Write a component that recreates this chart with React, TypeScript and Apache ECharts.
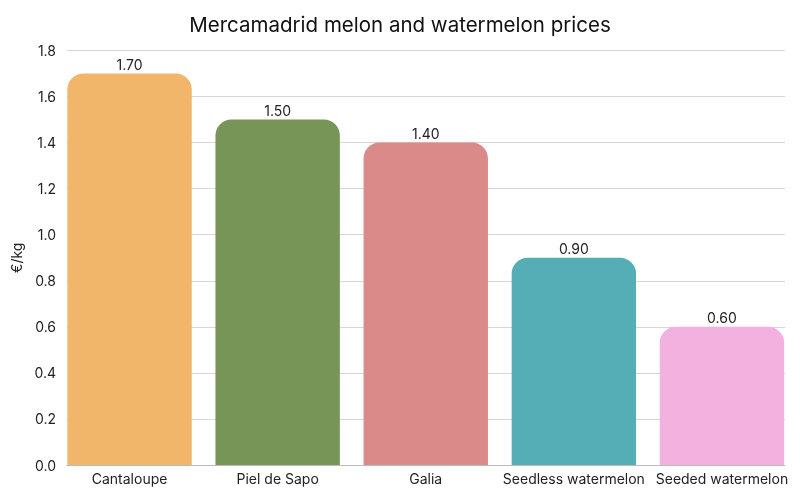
import React, { useEffect, useRef } from "react";
import * as echarts from "echarts";

const categories = ["Cantaloupe", "Piel de Sapo", "Galia", "Seedless watermelon", "Seeded watermelon"];
const prices = [1.7, 1.5, 1.4, 0.9, 0.6];
const colors = ["#F2B66B", "#769557", "#D98A89", "#55AEB5", "#F2B1DE"];
const titleText = "Mercamadrid melon and watermelon prices";
const yName = "€/kg";

export default function App() {
  const ref = useRef<HTMLDivElement>(null);
  useEffect(() => {
    if (!ref.current) return;
    const chart = echarts.init(ref.current, undefined, { renderer: "svg" });
    const font = "Inter, 'Noto Sans', sans-serif";
    chart.setOption({
      animation: false,
      textStyle: { fontFamily: font },
      title: {
        text: titleText,
        left: "center",
        top: 9,
        textStyle: { fontFamily: font, fontSize: 20.5, fontWeight: "normal", color: "#111" },
      },
      grid: [
        { left: 67, right: 15, top: 50.5, bottom: 35 },
        { left: 55.5, right: 4, top: 50.5, bottom: 35 },
      ],
      xAxis: [
        {
          type: "category",
          gridIndex: 0,
          data: categories,
          axisLine: { show: true, lineStyle: { color: "#bbb" } },
          axisTick: { show: false },
          axisLabel: { show: false },
        },
        {
          type: "category",
          gridIndex: 1,
          data: categories,
          axisLine: { show: false },
          axisTick: { show: false },
          axisLabel: { color: "#222", fontSize: 14, margin: 6, interval: 0, fontFamily: font },
        },
      ],
      yAxis: [
        {
          type: "value",
          gridIndex: 0,
          min: 0,
          max: 1.8,
          interval: 0.2,
          name: yName,
          nameLocation: "middle",
          nameGap: 40,
          nameTextStyle: { color: "#222", fontSize: 14, fontFamily: font },
          axisLabel: {
            color: "#222",
            fontSize: 14,
            margin: 11,
            fontFamily: font,
            formatter: (v: number) => v.toFixed(1),
          },
          axisLine: { show: false },
          axisTick: { show: false },
          splitLine: { lineStyle: { color: "#d6d6d6" } },
        },
        {
          type: "value",
          gridIndex: 1,
          min: 0,
          max: 1.8,
          interval: 0.2,
          show: false,
          splitLine: { show: false },
        },
      ],
      series: [
        {
          type: "bar",
          xAxisIndex: 1,
          yAxisIndex: 1,
          barCategoryGap: "16%",
          data: prices.map((v, i) => ({
            value: v,
            itemStyle: { color: colors[i], borderRadius: [16, 16, 0, 0] },
          })),
          label: {
            show: true,
            position: "top",
            distance: 2,
            color: "#222",
            fontSize: 14,
            fontFamily: font,
            formatter: (p: any) => Number(p.value).toFixed(2),
          },
        },
      ],
    });
    return () => chart.dispose();
  }, []);
  return <div ref={ref} style={{ position: "fixed", left: 0, top: 0, width: 800, height: 500 }} />;
}
